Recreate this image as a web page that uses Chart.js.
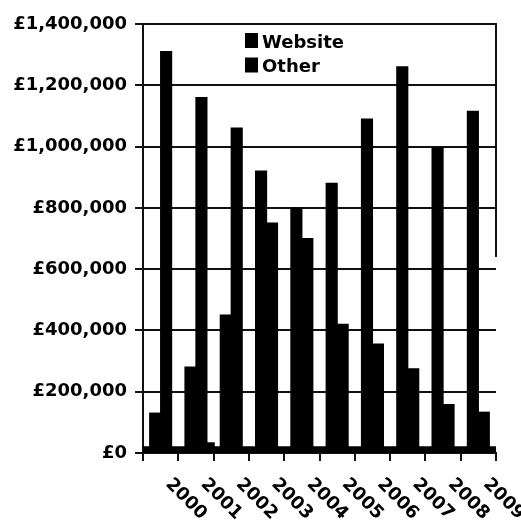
<!DOCTYPE html>
<html>
<head>
<meta charset="utf-8">
<script src="https://cdn.jsdelivr.net/npm/chart.js@4.4.1/dist/chart.umd.min.js"></script>
<style>
  html, body { margin: 0; padding: 0; background: #fff; }
  #wrap { width: 521px; height: 520px; position: relative; }
</style>
</head>
<body>
<div id="wrap"><canvas id="ctx"></canvas></div>
<script>
  // yearly takings, first and second bar of each year
  const years = ['2000', '2001', '2002', '2003', '2004', '2005', '2006', '2007', '2008', '2009'];
  const website = [130000, 280000, 450000, 920000, 800000, 880000, 1090000, 1260000, 995000, 1115000];
  const other = [1310000, 1160000, 1060000, 750000, 700000, 420000, 355000, 275000, 158000, 133000];
  const seriesNames = ['Website', 'Other'];
  const yTicks = [0, 200000, 400000, 600000, 800000, 1000000, 1200000, 1400000];
  const floorValue = 22000;   // the solid strip along the bottom
  const stubValue = 35000;    // little block after the 2001 pair
  const frameRightTo = 640000; // right frame line stops here

  const FONT = 'DejaVu Sans';
  const money = v => '£' + Number(v).toLocaleString('en-GB');

  // solid floor under the bars, plus the odd stub and the half right frame
  const extras = {
    id: 'extras',
    beforeDatasetsDraw(chart) {
      const {ctx, chartArea, scales: {y}} = chart;
      ctx.save();
      ctx.fillStyle = '#000';
      const top = y.getPixelForValue(floorValue);
      ctx.fillRect(chartArea.left, top, chartArea.right - chartArea.left, y.getPixelForValue(0) - top);
      ctx.restore();
    },
    afterDatasetsDraw(chart) {
      const {ctx, chartArea, scales: {y}} = chart;
      const bar = chart.getDatasetMeta(1).data[1];
      ctx.save();
      ctx.fillStyle = '#000';
      const x0 = bar.x + bar.width / 2;
      const t = y.getPixelForValue(stubValue);
      ctx.fillRect(x0, t, bar.width * 0.72, y.getPixelForValue(0) - t);

      ctx.strokeStyle = '#111';
      ctx.lineWidth = 2;
      ctx.beginPath();
      ctx.moveTo(chartArea.right, y.getPixelForValue(y.max) - 1);
      ctx.lineTo(chartArea.right, y.getPixelForValue(frameRightTo));
      ctx.stroke();
      ctx.restore();
    },
    afterDraw(chart) {
      const {ctx, chartArea, scales: {x}} = chart;
      ctx.save();
      ctx.fillStyle = '#000';
      ctx.font = 'bold 18px "' + FONT + '"';

      // slanted year labels
      ctx.textAlign = 'left';
      ctx.textBaseline = 'top';
      years.forEach((yr, i) => {
        ctx.save();
        ctx.translate(x.getPixelForValue(i) + 14, chartArea.bottom + 22);
        ctx.rotate(Math.PI / 4);
        ctx.fillText(yr, 0, 0);
        ctx.restore();
      });

      // legend box inside the plot
      ctx.textBaseline = 'alphabetic';
      chart.data.datasets.forEach((ds, i) => {
        const lx = chartArea.left + 102;
        const ly = chartArea.top + 9 + i * 24.5;
        ctx.fillStyle = ds.backgroundColor;
        ctx.fillRect(lx, ly, 13, 15);
        ctx.fillStyle = '#000';
        ctx.fillText(ds.label, lx + 17, ly + 14.5);
      });
      ctx.restore();
    }
  };

  const config = {
    type: 'bar',
    data: {
      labels: years,
      datasets: [
        { label: seriesNames[0], data: website, backgroundColor: '#000', borderWidth: 0, inflateAmount: 0.6 },
        { label: seriesNames[1], data: other, backgroundColor: '#000', borderWidth: 0, inflateAmount: 0.6 }
      ]
    },
    options: {
      responsive: false,
      animation: false,
      events: [],
      layout: { padding: { top: 24, right: 25, left: 0, bottom: 0 } },
      datasets: { bar: { categoryPercentage: 0.62, barPercentage: 1 } },
      plugins: { legend: { display: false }, tooltip: { enabled: false } },
      scales: {
        x: {
          offset: true,
          afterFit(s) { s.height = 67; },
          ticks: { display: false },
          grid: { offset: true, drawOnChartArea: false, drawTicks: true, tickLength: 8, color: '#111', lineWidth: 2 },
          border: { display: true, color: '#111', width: 2 }
        },
        y: {
          min: 0,
          max: 1400000,
          afterFit(s) { s.width = 143; },
          afterBuildTicks(s) { s.ticks = yTicks.map(v => ({ value: v })); },
          ticks: {
            padding: 8,
            color: '#000',
            font: { family: FONT, size: 18, weight: 'bold' },
            callback: v => money(v)
          },
          grid: { color: '#111', lineWidth: 2, tickLength: 8 },
          border: { display: true, color: '#111', width: 2 }
        }
      }
    },
    plugins: [extras]
  };

  const canvas = document.getElementById('ctx');
  canvas.width = 521;
  canvas.height = 520;
  const myChart = new Chart(canvas, config);
</script>
</body>
</html>
